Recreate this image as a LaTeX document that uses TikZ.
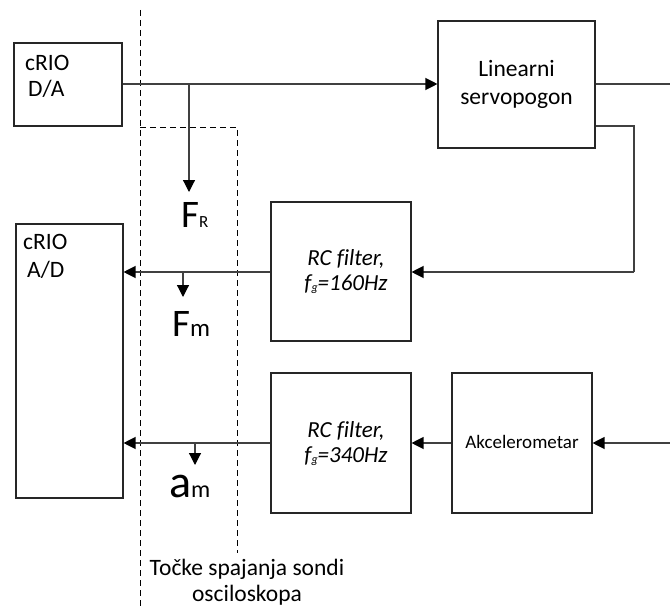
\documentclass[tikz,border=0pt]{standalone}
\usepackage{fontspec}
\setmainfont{Carlito}[Ligatures=NoCommon]
\usetikzlibrary{arrows.meta}
\definecolor{lin}{RGB}{64,64,64}
\tikzset{
  box/.style={draw=black!85, line width=1.1pt, fill=white, inner sep=0pt},
  conn/.style={draw=lin, line width=1.2pt},
  arr/.style={conn, -{Triangle[length=12pt,width=12pt,fill=black,color=black]}},
  probe/.style={draw=black, line width=0.8pt, dash pattern=on 6pt off 4pt},
  txt/.style={inner sep=0pt, anchor=base west, font=\fontsize{23.5}{27}\selectfont},
  ctxt/.style={inner sep=0pt, anchor=base, font=\fontsize{23.5}{27}\selectfont},
  itxt/.style={inner sep=0pt, anchor=base, font=\fontsize{23}{27}\selectfont\itshape},
}
\newcommand{\bigF}{\fontsize{39}{39}\selectfont}
\begin{document}
\begin{tikzpicture}[x=1pt,y=-1pt]
\useasboundingbox (0,0) rectangle (670,610);
% probe region
\draw[probe] (140,10) -- (140,610);
\draw[probe] (140,127) -- (237,127) -- (237,553);
% boxes
\node[box, minimum width=108pt, minimum height=83pt] (da) at (68,84.5) {};
\node[box, minimum width=107pt, minimum height=274pt] (ad) at (69.5,361) {};
\node[box, minimum width=157pt, minimum height=127pt] (servo) at (516.5,84.5) {};
\node[box, minimum width=140pt, minimum height=139pt] (rc1) at (341,271.5) {};
\node[box, minimum width=140pt, minimum height=140pt] (rc2) at (341,443) {};
\node[box, minimum width=140pt, minimum height=140pt] (acc) at (522,443) {};
% texts
\node[txt] (t1) at (25,70.5) {cRIO};
\node[txt] (t2) at (28,97) {D/A};
\node[txt] (t3) at (23,249) {cRIO};
\node[txt] (t4) at (27,277) {A/D};
\node[ctxt] (t5) at (516.5,77) {Linearni};
\node[ctxt] (t6) at (516.5,104) {servopogon};
\node[itxt] (t7) at (346,265) {RC filter,};
\node[itxt] (t8) at (346,290) {f\raisebox{-0.1ex}{\fontsize{12}{12}\selectfont g}=160Hz};
\node[itxt] (t9) at (346,437) {RC filter,};
\node[itxt] (t10) at (346,462) {f\raisebox{-0.1ex}{\fontsize{12}{12}\selectfont g}=340Hz};
\node[ctxt, font=\fontsize{19}{23}\selectfont] (t11) at (522,448) {Akcelerometar};
\node[ctxt] (t12) at (247,575) {Točke spajanja sondi};
\node[ctxt] (t13) at (247,601) {osciloskopa};
% probe labels
\node[txt] (fr) at (181,227) {\bigF F\fontsize{17}{17}\selectfont R};
\node[txt] (fm) at (172,336) {\bigF F\fontsize{25}{25}\selectfont m};
\node[txt] (am) at (169,497) {\fontsize{46}{46}\selectfont a\fontsize{24}{24}\selectfont m};
% coordinates
\coordinate (j1) at (189,84);
\coordinate (p1) at (189,192);
\coordinate (j2) at (183,272);
\coordinate (p2) at (183,297);
\coordinate (j3) at (195,443);
\coordinate (p3) at (195,465);
\coordinate (outR) at (670,84);
\coordinate (inR) at (670,443);
\coordinate (c1) at (634,126);
\coordinate (c2) at (634,272);
% connectors
\draw[arr] (da.east |- j1) -- (servo.west |- j1);
\draw[arr] (j1) -- (p1);
\draw[conn] (servo.east |- outR) -- (outR);
\draw[conn] (servo.east |- c1) -- (c1) -- (c2);
\draw[arr] (c2) -- (rc1.east |- c2);
\draw[arr] (rc1.west |- j2) -- (ad.east |- j2);
\draw[arr] (j2) -- (p2);
\draw[arr] (inR) -- (acc.east);
\draw[arr] (acc.west) -- (rc2.east);
\draw[arr] (rc2.west) -- (ad.east |- j3);
\draw[arr] (j3) -- (p3);
\end{tikzpicture}
\end{document}
